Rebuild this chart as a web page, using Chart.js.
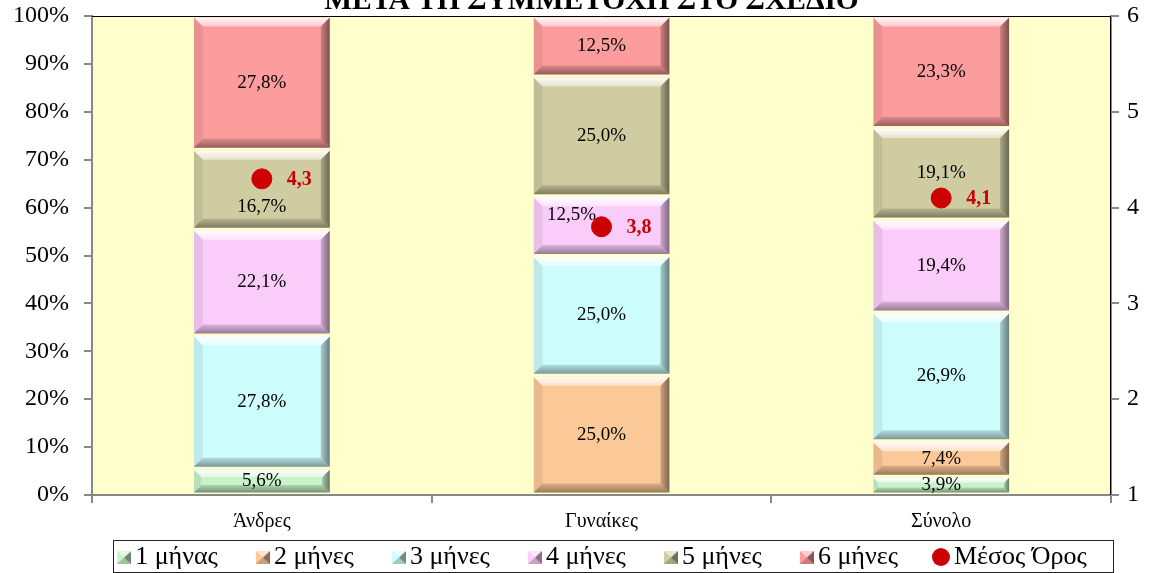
<!DOCTYPE html>
<html>
<head>
<meta charset="utf-8">
<script src="https://cdn.jsdelivr.net/npm/chart.js@4/dist/chart.umd.min.js"></script>
<style>
  html, body { margin: 0; padding: 0; background: #ffffff; overflow: hidden; }
  #wrap { width: 1150px; height: 573px; overflow: hidden; position: relative; }
  canvas { display: block; }
</style>
</head>
<body>
<div id="wrap"><canvas id="c" width="1150" height="580"></canvas></div>
<script>
// ---- data ----
const titleText = 'ΜΕΤΑ ΤΗ ΣΥΜΜΕΤΟΧΗ ΣΤΟ ΣΧΕΔΙΟ';
const categories = ['Άνδρες', 'Γυναίκες', 'Σύνολο'];
const seriesNames = ['1 μήνας', '2 μήνες', '3 μήνες', '4 μήνες', '5 μήνες', '6 μήνες'];
const month1 = [5.6, null, 3.9];
const month2 = [null, 25.0, 7.4];
const month3 = [27.8, 25.0, 26.9];
const month4 = [22.1, 12.5, 19.4];
const month5 = [16.7, 25.0, 19.1];
const month6 = [27.8, 12.5, 23.3];
const meanName = 'Μέσος Όρος';
const meanValues = [4.3, 3.8, 4.1];
const leftTicks = [0, 10, 20, 30, 40, 50, 60, 70, 80, 90, 100];
const rightTicks = [1, 2, 3, 4, 5, 6];

// ---- styles ----
const seriesColors = ['#C8F2C8', '#FBC898', '#CCFCFC', '#FACCFA', '#D0CCA2', '#FC9C9C'];
const meanColor = '#CC0000';
const plotBg = '#FFFFCC';
const serif = '"Liberation Serif", "Times New Roman", serif';
// label nudges (dataset index - category index) -> [dx, dy]
const labelNudge = { '4-0': [0, 18], '3-1': [-30, -11] };

const seriesValues = [month1, month2, month3, month4, month5, month6];

function fmt(v, d) { return v.toFixed(d).replace('.', ','); }

// legend marker image: box width 33 + 18 overhang, marker sits at right end
function markerCanvas(color, round) {
  const cv = document.createElement('canvas');
  cv.width = 51; cv.height = 18;
  const c = cv.getContext('2d');
  if (round) {
    c.fillStyle = color;
    c.beginPath(); c.arc(42, 9, 9, 0, Math.PI * 2); c.fill();
  } else {
    const l = 37, t = 3, s = 14, hh = 13;
    c.fillStyle = color; c.fillRect(l, t, s, hh);
    c.fillStyle = 'rgba(0,0,0,0.45)';
    c.beginPath(); c.moveTo(l + s, t); c.lineTo(l + s, t + hh); c.lineTo(l + s / 2, t + hh / 2); c.closePath(); c.fill();
    c.fillStyle = 'rgba(0,0,0,0.2)';
    c.beginPath(); c.moveTo(l, t + hh); c.lineTo(l + s, t + hh); c.lineTo(l + s / 2, t + hh / 2); c.closePath(); c.fill();
    c.fillStyle = 'rgba(255,255,255,0.5)';
    c.beginPath(); c.moveTo(l, t); c.lineTo(l + s, t); c.lineTo(l + s / 2, t + hh / 2); c.closePath(); c.fill();
  }
  return cv;
}

const datasets = seriesNames.map((name, i) => ({
  type: 'bar',
  label: name,
  data: seriesValues[i],
  backgroundColor: seriesColors[i],
  borderColor: plotBg,
  borderWidth: { top: 1.5, bottom: 1.5, left: 0, right: 0 },
  borderSkipped: false,
  barPercentage: 0.4,
  categoryPercentage: 1.0,
  yAxisID: 'y',
  order: 1,
  legendMarker: markerCanvas(seriesColors[i], false)
}));
datasets.push({
  type: 'line',
  label: meanName,
  data: meanValues,
  yAxisID: 'y2',
  showLine: false,
  pointRadius: 10,
  pointHoverRadius: 10,
  pointBackgroundColor: meanColor,
  pointBorderColor: meanColor,
  backgroundColor: meanColor,
  borderColor: meanColor,
  order: 0,
  legendMarker: markerCanvas(meanColor, true)
});

function poly(ctx, pts, fill) {
  ctx.beginPath();
  ctx.moveTo(pts[0][0], pts[0][1]);
  for (let k = 1; k < pts.length; k++) ctx.lineTo(pts[k][0], pts[k][1]);
  ctx.closePath();
  ctx.fillStyle = fill;
  ctx.fill();
}

const decorPlugin = {
  id: 'decor',
  beforeDraw(chart) {
    const { ctx, chartArea: a } = chart;
    ctx.save();
    ctx.fillStyle = plotBg;
    ctx.fillRect(a.left, a.top, a.right - a.left, a.bottom - a.top);
    // title (last line, partially cut by top edge)
    ctx.fillStyle = '#000';
    ctx.font = 'bold 29.5px ' + serif;
    ctx.textAlign = 'center';
    ctx.textBaseline = 'alphabetic';
    ctx.fillText(titleText, (a.left + a.right) / 2 - 10, 9);
    ctx.restore();
  },
  afterDatasetDraw(chart, args) {
    const ds = chart.data.datasets[args.index];
    if (ds.type !== 'bar') return;
    const ctx = chart.ctx;
    ctx.save();
    args.meta.data.forEach((el, i) => {
      if (ds.data[i] == null) return;
      const p = el.getProps(['x', 'y', 'base', 'width'], true);
      const l = p.x - p.width / 2, r = p.x + p.width / 2;
      const t = Math.min(p.y, p.base) + 1.5, b = Math.max(p.y, p.base) - 1.5;
      const h = b - t;
      if (h <= 0) return;
      const s = Math.min(9, h / 3);
      const g = ctx.createLinearGradient(0, t, 0, t + s);
      g.addColorStop(0, 'rgba(255,255,255,0.95)');
      g.addColorStop(1, 'rgba(255,255,255,0.45)');
      poly(ctx, [[l, t], [r, t], [r - s, t + s], [l + s, t + s]], g);
      poly(ctx, [[l, t], [l + s, t + s], [l + s, b - s], [l, b]], 'rgba(0,0,0,0.07)');
      const gr = ctx.createLinearGradient(r - s, 0, r, 0);
      gr.addColorStop(0, 'rgba(0,0,0,0.18)');
      gr.addColorStop(1, 'rgba(0,0,0,0.5)');
      poly(ctx, [[r, t], [r, b], [r - s, b - s], [r - s, t + s]], gr);
      const gb = ctx.createLinearGradient(0, b - s, 0, b);
      gb.addColorStop(0, 'rgba(0,0,0,0.12)');
      gb.addColorStop(1, 'rgba(0,0,0,0.4)');
      poly(ctx, [[l, b], [r, b], [r - s, b - s], [l + s, b - s]], gb);
    });
    ctx.restore();
  },
  afterDatasetsDraw(chart) {
    const ctx = chart.ctx;
    const a = chart.chartArea;
    ctx.save();
    // plot frame top/right
    ctx.strokeStyle = '#000';
    ctx.lineWidth = 1;
    ctx.beginPath();
    ctx.moveTo(a.left, a.top + 0.5); ctx.lineTo(a.right - 0.5, a.top + 0.5); ctx.lineTo(a.right - 0.5, a.bottom);
    ctx.stroke();
    // value labels
    ctx.textBaseline = 'middle';
    chart.data.datasets.forEach((ds, di) => {
      const meta = chart.getDatasetMeta(di);
      meta.data.forEach((el, i) => {
        const v = ds.data[i];
        if (v == null) return;
        if (ds.type === 'bar') {
          const p = el.getProps(['x', 'y', 'base'], true);
          const n = labelNudge[di + '-' + i] || [0, 0];
          ctx.font = '19px ' + serif;
          ctx.fillStyle = '#000';
          ctx.textAlign = 'center';
          ctx.fillText(fmt(v, 1) + '%', p.x + n[0], (p.y + p.base) / 2 + n[1]);
        } else {
          const p = el.getProps(['x', 'y'], true);
          ctx.font = 'bold 20px ' + serif;
          ctx.fillStyle = meanColor;
          ctx.textAlign = 'left';
          ctx.fillText(fmt(v, 1), p.x + 25, p.y + 1);
        }
      });
    });
    ctx.restore();
  },
  afterDraw(chart) {
    const lg = chart.legend;
    if (!lg || !lg.legendHitBoxes || !lg.legendHitBoxes.length) return;
    const hb = lg.legendHitBoxes;
    const first = hb[0], last = hb[hb.length - 1];
    const ctx = chart.ctx;
    ctx.save();
    ctx.strokeStyle = '#222';
    ctx.lineWidth = 1;
    const x0 = first.left + 24, x1 = last.left + last.width + 26;
    ctx.strokeRect(Math.round(x0) + 0.5, lg.top + 6.5, Math.round(x1 - x0), 32);
    ctx.restore();
  }
};

new Chart(document.getElementById('c'), {
  data: { labels: categories, datasets: datasets },
  plugins: [decorPlugin],
  options: {
    responsive: false,
    animation: false,
    devicePixelRatio: 1,
    layout: { padding: { top: 16, left: 0, right: -26, bottom: 0 } },
    plugins: {
      title: { display: false },
      tooltip: { enabled: false },
      legend: {
        display: true,
        position: 'bottom',
        align: 'center',
        labels: {
          color: '#000',
          font: { family: serif, size: 26 },
          usePointStyle: true,
          pointStyleWidth: 33,
          padding: 10,
          generateLabels(chart) {
            return chart.data.datasets.map((ds, i) => ({
              text: ds.label,
              fillStyle: ds.backgroundColor,
              strokeStyle: ds.backgroundColor,
              lineWidth: 0,
              pointStyle: ds.legendMarker,
              hidden: false,
              datasetIndex: i
            }));
          }
        }
      }
    },
    scales: {
      x: {
        stacked: true,
        offset: true,
        grid: { display: true, offset: true, drawOnChartArea: false, drawTicks: true, tickLength: 8, color: '#888888', lineWidth: 2 },
        border: { display: true, color: '#888888', width: 2 },
        ticks: { color: '#000', font: { family: serif, size: 20 }, padding: 7 },
        afterFit(s) { s.height = 39; }
      },
      y: {
        stacked: true,
        position: 'left',
        min: 0, max: 100,
        afterBuildTicks(s) { s.ticks = leftTicks.map(v => ({ value: v })); },
        grid: { display: true, drawOnChartArea: false, drawTicks: true, tickLength: 8, color: '#888888', lineWidth: 2 },
        border: { display: true, color: '#888888', width: 2 },
        ticks: { color: '#000', font: { family: serif, size: 24 }, padding: 15, callback: v => v + '%' },
        afterFit(s) { s.width = 92; s.paddingTop = 0; s.paddingBottom = 0; }
      },
      y2: {
        stacked: false,
        position: 'right',
        min: 1, max: 6,
        afterBuildTicks(s) { s.ticks = rightTicks.map(v => ({ value: v })); },
        grid: { display: true, drawOnChartArea: false, drawTicks: true, tickLength: 8, color: '#888888', lineWidth: 2 },
        border: { display: true, color: '#888888', width: 2 },
        ticks: { color: '#000', font: { family: serif, size: 24 }, padding: 8 },
        afterFit(s) { s.width = 65; s.paddingTop = 0; s.paddingBottom = 0; }
      }
    }
  }
});
</script>
</body>
</html>
